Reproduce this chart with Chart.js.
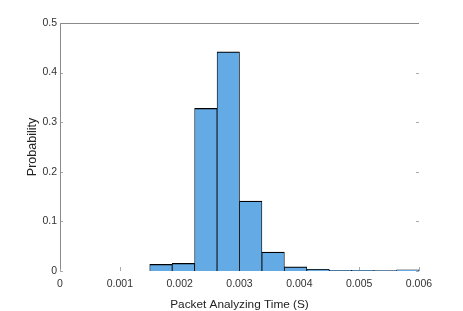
<!DOCTYPE html>
<html>
<head>
<meta charset="utf-8">
<script src="https://cdn.jsdelivr.net/npm/chart.js@4.4.0/dist/chart.umd.min.js"></script>
<style>
  html, body { margin: 0; padding: 0; background: #fff; }
  #wrap { width: 463px; height: 311px; }
</style>
</head>
<body>
<div id="wrap"><canvas id="chart"></canvas></div>
<script>
// histogram bins (centres, seconds) and their probabilities
const binCenters = [0.0016875, 0.0020625, 0.0024375, 0.0028125, 0.0031875, 0.0035625,
  0.0039375, 0.0043125, 0.0046875, 0.0050625, 0.0054375, 0.0058125];
const probabilities = [0.0135, 0.0155, 0.328, 0.442, 0.141, 0.038,
  0.0085, 0.0035, 0.0015, 0.0015, 0.001, 0.0025];
const xTicks = [0, 0.001, 0.002, 0.003, 0.004, 0.005, 0.006];
const yTicks = [0, 0.1, 0.2, 0.3, 0.4, 0.5];

const font = "'Liberation Sans', Arial, sans-serif";
const axisGray = "#8a8a8a";

// MATLAB-like box: left + top lines, small inward ticks
const axesBox = {
  id: "axesBox",
  beforeDatasetsDraw(chart) {
    const { ctx, chartArea: a, scales } = chart;
    ctx.save();
    ctx.strokeStyle = "#aaa";
    ctx.lineWidth = 1;
    ctx.beginPath();
    yTicks.forEach(v => {
      const y = Math.round(scales.y.getPixelForValue(v)) + 0.5;
      ctx.moveTo(a.left, y); ctx.lineTo(a.left + 3, y);
      ctx.moveTo(a.right, y); ctx.lineTo(a.right - 3, y);
    });
    xTicks.forEach(v => {
      const x = Math.round(scales.x.getPixelForValue(v)) + 0.5;
      ctx.moveTo(x, a.bottom); ctx.lineTo(x, a.bottom - 4);
    });
    ctx.stroke();
    ctx.restore();
  },
  afterDraw(chart) {
    const { ctx, chartArea: a } = chart;
    ctx.save();
    ctx.strokeStyle = axisGray;
    ctx.lineWidth = 1;
    ctx.beginPath();
    const l = Math.round(a.left) + 0.5, t = Math.round(a.top) + 0.5;
    ctx.moveTo(l, a.bottom - 2);
    ctx.lineTo(l, t);
    ctx.lineTo(a.right, t);
    ctx.stroke();
    ctx.restore();
  }
};

new Chart(document.getElementById("chart"), {
  type: "bar",
  data: {
    datasets: [{
      data: binCenters.map((x, i) => ({ x: x, y: probabilities[i] })),
      backgroundColor: "rgb(100,170,228)",
      borderColor: "#000",
      borderWidth: { left: 0.8, right: 0.8, top: 1.3, bottom: 0 },
      borderSkipped: false,
      barPercentage: 1,
      categoryPercentage: 1
    }]
  },
  options: {
    responsive: true,
    maintainAspectRatio: false,
    animation: false,
    layout: { padding: { left: 0, top: 23, right: 44, bottom: 0 } },
    plugins: { legend: { display: false }, tooltip: { enabled: false } },
    scales: {
      x: {
        type: "linear",
        min: 0,
        max: 0.006,
        offset: false,
        afterBuildTicks: s => { s.ticks = xTicks.map(v => ({ value: v })); },
        afterFit: s => { s.height = 40; },
        grid: { display: false, drawTicks: false },
        border: { display: false },
        ticks: {
          padding: 7,
          maxRotation: 0,
          autoSkip: false,
          color: "#333",
          font: { family: font, size: 10.5 },
          callback: v => (v === 0 ? "0" : v.toFixed(3))
        },
        title: {
          display: true,
          text: "Packet Analyzing Time (S)",
          color: "#222",
          font: { family: font, size: 11.8, lineHeight: 1 },
          padding: { top: 0, bottom: 0 }
        }
      },
      y: {
        min: 0,
        max: 0.5,
        afterBuildTicks: s => { s.ticks = yTicks.map(v => ({ value: v })); },
        afterFit: s => { s.width = 60; },
        grid: { display: false, drawTicks: false },
        border: { display: false },
        ticks: {
          padding: 3,
          color: "#333",
          font: { family: font, size: 10.5 },
          callback: v => (v === 0 ? "0" : v.toFixed(1))
        },
        title: {
          display: true,
          text: "Probability",
          color: "#222",
          font: { family: font, size: 12.5 },
          padding: { top: 25, bottom: 0 }
        }
      }
    }
  },
  plugins: [axesBox]
});
</script>
</body>
</html>
